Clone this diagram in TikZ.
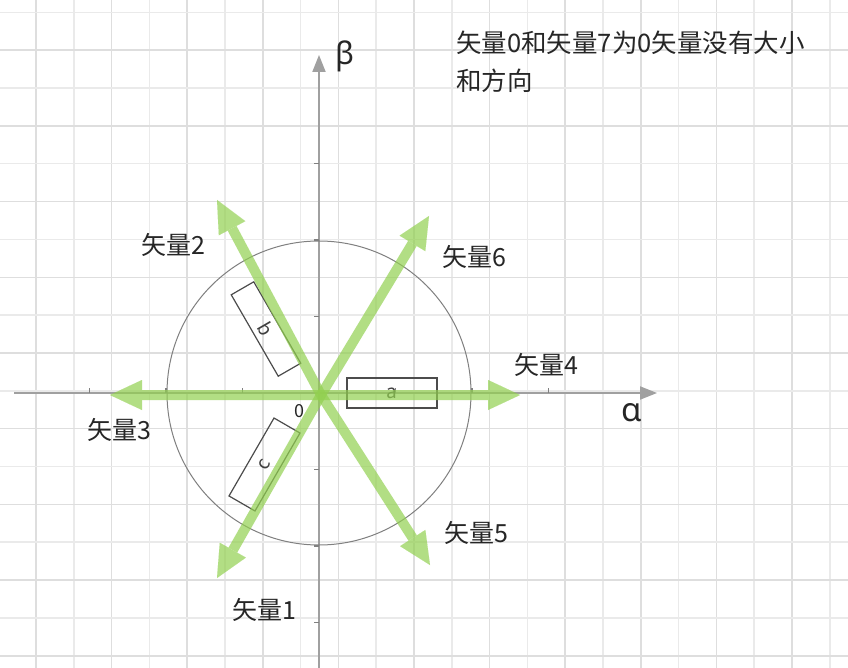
\documentclass[tikz,border=0pt]{standalone}
\usepackage{fontspec}
\setmainfont{Noto Sans CJK SC}
\newfontfamily\greekfont{Noto Sans}
\usetikzlibrary{arrows.meta}
\definecolor{gridA}{HTML}{DEDEDE}
\definecolor{gridB}{HTML}{EAEAEA}
\definecolor{axisgray}{HTML}{A0A0A0}
\definecolor{vecgreen}{RGB}{146,208,80}
\definecolor{txt}{HTML}{262626}
\tikzset{
  gridline/.style={line width=1.5pt},
  axisline/.style={draw=axisgray,line width=2pt,-{Triangle[width=13pt,length=17pt]}},
  tickline/.style={draw=axisgray!80!black,line width=1.5pt},
  vec/.style={draw=vecgreen,line width=10pt,
    -{Triangle[width=30pt,length=32pt,line width=0.01pt,fill=vecgreen]}},
  lbl/.style={text=txt,font=\fontsize{25}{28}\selectfont,inner sep=0pt},
  boxlbl/.style={draw=black!70,line width=1.2pt,inner sep=0pt,text=black!75,
    font=\fontsize{19}{20}\selectfont}
}
\begin{document}
\begin{tikzpicture}[x=1pt,y=-1pt]
\useasboundingbox (0,0) rectangle (848,668);
\fill[white] (0,0) rectangle (848,668);
% grid
\foreach \xx in {36,111.6,...,848} \draw[gridline,gridA] (\xx,0) -- (\xx,668);
\foreach \xx in {73.8,149.4,...,848} \draw[gridline,gridB] (\xx,0) -- (\xx,668);
\foreach \yy in {50.15,125.85,...,668} \draw[gridline,gridA] (0,\yy) -- (848,\yy);
\foreach \yy in {12.3,88,...,668} \draw[gridline,gridB] (0,\yy) -- (848,\yy);
% axes
\coordinate (xs) at (14,393);
\coordinate (xe) at (657,393);
\coordinate (ys) at (319,668);
\coordinate (ye) at (319,55);
\draw[axisline] (xs) -- (xe);
\draw[axisline] (ys) -- (ye);
\foreach \k in {-3,-2,-1,1,2,3} {
  \draw[tickline] (319+76.5*\k,393) -- ++(0,-5);
  \draw[tickline] (319,393+76.5*\k) -- ++(-5,0);
}
% circle
\node[draw=black!50,line width=1pt,circle,minimum size=304pt,inner sep=0pt] (circ) at (319,393) {};
% boxes
\node[boxlbl,minimum width=90pt,minimum height=30pt] (a) at (392,393) {a};
\node[boxlbl,minimum width=94pt,minimum height=26pt,rotate=-60] (b) at (266,329) {b};
\node[boxlbl,minimum width=90pt,minimum height=30pt,rotate=60] (c) at (264.5,464.5) {c};
% vectors
\coordinate (O) at (321,395);
\coordinate (t1) at (217,578);
\coordinate (t2) at (217,200);
\coordinate (t3) at (110,395);
\coordinate (t4) at (520,395);
\coordinate (t5) at (430,565);
\coordinate (t6) at (429,216);
\foreach \tp in {t1,t2,t3,t4,t5,t6} {
  \begin{scope}[transparency group,opacity=0.7]
    \draw[vec] (O) -- (\tp);
  \end{scope}
}
% labels
\node[lbl,font=\fontsize{18}{20}\selectfont] (zero) at (299,411) {0};
\node[lbl] (l1) at (264,610) {矢量1};
\node[lbl] (l2) at (173,245) {矢量2};
\node[lbl] (l3) at (119,430) {矢量3};
\node[lbl] (l4) at (546,365) {矢量4};
\node[lbl] (l5) at (476,533) {矢量5};
\node[lbl] (l6) at (474,257) {矢量6};
\node[lbl,font=\greekfont\fontsize{31}{32}\selectfont] (beta) at (345,56) {β};
\node[lbl,font=\greekfont\fontsize{33}{34}\selectfont] (alpha) at (632,413) {α};
\node[lbl,anchor=west,align=left,font=\fontsize{25.5}{38}\selectfont] (note) at (456,62) {矢量0和矢量7为0矢量没有大小\\和方向};
\end{tikzpicture}
\end{document}
